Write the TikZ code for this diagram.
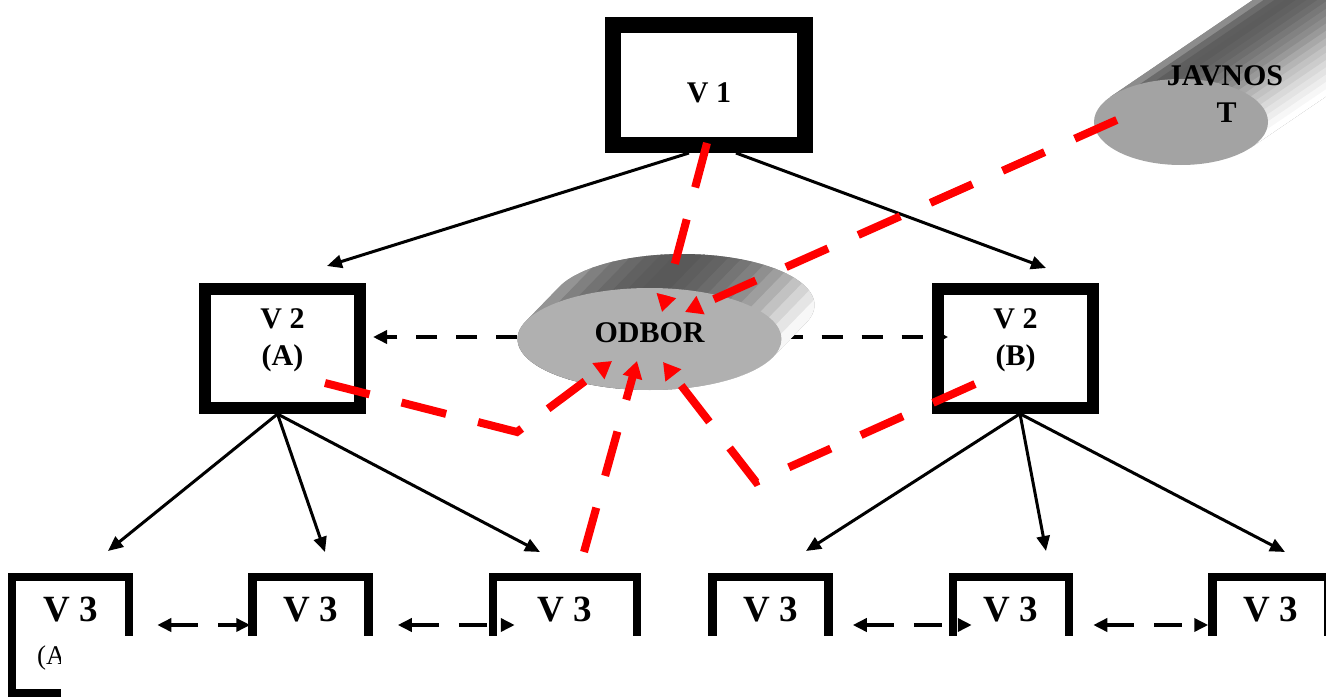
\documentclass[tikz,border=0pt]{standalone}
\usepackage{fontspec}
\setmainfont{Liberation Serif}
\usetikzlibrary{arrows.meta,shapes.geometric}
\pgfdeclarelayer{behind}
\pgfsetlayers{behind,main}
\definecolor{odborfront}{RGB}{176,176,176}
\definecolor{javfront}{RGB}{163,163,163}
\definecolor{linkred}{RGB}{255,0,0}
\begin{document}
\begin{tikzpicture}[x=1pt,y=-1pt,
  boxframe/.style={draw=black, inner sep=0pt},
  lbl/.style={font=\fontsize{30}{37}\selectfont\bfseries, inner sep=0pt, anchor=base},
  lblbig/.style={font=\fontsize{37}{44}\selectfont\bfseries, inner sep=0pt, anchor=base},
  treearrow/.style={line width=3pt, -{Triangle[length=15pt,width=13pt]}},
  peerarrow/.style={line width=3.5pt, dash pattern=on 21pt off 19pt, -{Triangle[length=14pt,width=13pt]}},
  peerboth/.style={line width=3.5pt, dash pattern=on 28pt off 20pt,
    {Triangle[length=14pt,width=13pt]}-{Triangle[length=14pt,width=13pt]}},
  redflow/.style={draw=linkred, line width=8pt, dash pattern=on 46pt off 33pt,
    -{Triangle[length=17pt,width=19pt]}},
]
\clip (0,0) rectangle (1326,699);
\useasboundingbox (0,0) rectangle (1326,699);

% ---- ODBOR: extruded disc, banded side surface
\begin{scope}
  \clip plot[domain=200.56:380.56, samples=60, variable=\t] ({682.5+132*cos(\t)},{305+51*sin(\t)})
     -- plot[domain=20.56:200.56, samples=60, variable=\t] ({649.5+132*cos(\t)},{339+51*sin(\t)}) -- cycle;
  \fill[white!58!black] (500,240) rectangle (830,400);
  \foreach \i/\g in {0/58,1/50,2/45,3/41,4/38,5/36,6/35,7/35,8/37,9/39,10/42,11/46,12/50,13/56,14/62,15/69,16/76,17/83,18/90,19/97}{
    \pgfmathsetmacro\sa{(-1+0.1*\i)*101}
    \pgfmathsetmacro\sb{(-0.89+0.1*\i)*101}
    \fill[white!\g!black]
      ({649.5+(\sa)*0.717-120*0.696},{339+(\sa)*0.696+120*0.717}) --
      ({649.5+(\sb)*0.717-120*0.696},{339+(\sb)*0.696+120*0.717}) --
      ({649.5+(\sb)*0.717+170*0.696},{339+(\sb)*0.696-170*0.717}) --
      ({649.5+(\sa)*0.717+170*0.696},{339+(\sa)*0.696-170*0.717}) -- cycle;
  }
\end{scope}
\node[ellipse, fill=odborfront, minimum width=264pt, minimum height=102pt, inner sep=0pt] (odbor) at (649.5,339) {};
\node[lbl] (odbort) at (649.5,342) {ODBOR};

% ---- JAVNOST: long cylinder running off the top right
\begin{scope}
  \clip (1110.6,96.7) -- (1358.6,-72) -- (1499.4,-21.4) -- (1251.4,147.3) -- cycle;
  \fill[white!55!black] (1080,-80) rectangle (1500,170);
  \foreach \i/\g in {0/55,1/42,2/37,3/36,4/38,5/40,6/43,7/47,8/51,9/55,10/60,11/66,12/71,13/76,14/80,15/85,16/89,17/93,18/97,19/100}{
    \pgfmathsetmacro\sa{(-1+0.1*\i)*60.5}
    \pgfmathsetmacro\sb{(-0.89+0.1*\i)*60.5}
    \fill[white!\g!black]
      ({1181+(\sa)*0.5623-100*0.8269},{122+(\sa)*0.8269+100*0.5623}) --
      ({1181+(\sb)*0.5623-100*0.8269},{122+(\sb)*0.8269+100*0.5623}) --
      ({1181+(\sb)*0.5623+420*0.8269},{122+(\sb)*0.8269-420*0.5623}) --
      ({1181+(\sa)*0.5623+420*0.8269},{122+(\sa)*0.8269-420*0.5623}) -- cycle;
  }
\end{scope}
\node[ellipse, fill=javfront, minimum width=174pt, minimum height=86pt, inner sep=0pt] (jav) at (1181,122) {};
\node[lbl] (javt1) at (1225,85) {JAVNOS};
\node[lbl] (javt2) at (1226.5,122) {T};

% ---- frames
\node[boxframe, line width=16pt, minimum width=192pt, minimum height=120pt] (v1) at (709,85) {};
\node[lbl] (v1t) at (709,102) {V 1};

\node[boxframe, line width=12pt, minimum width=155pt, minimum height=119pt] (v2a) at (282.5,348.5) {};
\node[lbl] (v2at) at (282.5,328) {V 2};
\node[lbl] (v2as) at (282.5,365) {(A)};

\node[boxframe, line width=11.5pt, minimum width=155pt, minimum height=119pt] (v2b) at (1015.5,348.5) {};
\node[lbl] (v2bt) at (1015.5,328) {V 2};
\node[lbl] (v2bs) at (1015.5,365) {(B)};

\node[boxframe, line width=8.5pt, minimum width=117pt, minimum height=116pt] (v3a) at (70.5,635) {};
\node[boxframe, line width=8.5pt, minimum width=116pt, minimum height=116pt] (v3b) at (310.5,635) {};
\node[boxframe, line width=8.5pt, minimum width=144pt, minimum height=116pt] (v3c) at (565,635) {};
\node[boxframe, line width=8.5pt, minimum width=116pt, minimum height=116pt] (v3d) at (770.5,635) {};
\node[boxframe, line width=8.5pt, minimum width=116pt, minimum height=116pt] (v3e) at (1011,635) {};
\node[boxframe, line width=8.5pt, minimum width=116pt, minimum height=116pt] (v3f) at (1270.5,635) {};
\node[lblbig] (v3at) at (70.5,621) {V 3};
\node[lblbig] (v3bt) at (310.5,621) {V 3};
\node[lblbig] (v3ct) at (565,621) {V 3};
\node[lblbig] (v3dt) at (770.5,621) {V 3};
\node[lblbig] (v3et) at (1011,621) {V 3};
\node[lblbig] (v3ft) at (1270.5,621) {V 3};
\node[font=\fontsize{27}{32}\selectfont, inner sep=0pt, anchor=base west] (v3as) at (37,664) {(A)};

% ---- arrow end points
\coordinate (a1) at (327,266);
\coordinate (a2) at (1046,268);
\coordinate (t1) at (108,551);
\coordinate (t2) at (325,552);
\coordinate (t3) at (540,552);
\coordinate (t4) at (806,551);
\coordinate (t5) at (1046,551);
\coordinate (t6) at (1285,552);
\coordinate (r1) at (662,312);
\coordinate (r2) at (685,312);
\coordinate (r3bend) at (517,432);
\coordinate (r3) at (612,361);
\coordinate (r4) at (637,361);
\coordinate (r5bend) at (756,482);
\coordinate (r5) at (663,362);

% ---- hierarchy arrows
\draw[treearrow] ([xshift=-20pt]v1.south) -- (a1);
\draw[treearrow] ([xshift=27pt]v1.south) -- (a2);
\draw[treearrow] ([xshift=-5pt]v2a.south) -- (t1);
\draw[treearrow] ([xshift=-5pt]v2a.south) -- (t2);
\draw[treearrow] ([xshift=-5pt]v2a.south) -- (t3);
\draw[treearrow] ([xshift=4.5pt]v2b.south) -- (t4);
\draw[treearrow] ([xshift=4.5pt]v2b.south) -- (t5);
\draw[treearrow] ([xshift=4.5pt]v2b.south) -- (t6);

% ---- dashed links from ODBOR (under the disc)
\begin{pgfonlayer}{behind}
  \draw[peerarrow] ([yshift=2pt]odbor.west) -- ([xshift=7pt,yshift=11.5pt]v2a.east);
  \draw[peerarrow] ([yshift=2pt]odbor.east) -- ([xshift=16pt,yshift=11.5pt]v2b.west);
\end{pgfonlayer}

% ---- dashed links between V3 frames
\draw[peerboth] ([xshift=24pt,yshift=10pt]v3a.east) -- ([xshift=2pt,yshift=10pt]v3b.west);
\draw[peerboth] ([xshift=25pt,yshift=10pt]v3b.east) -- ([xshift=26pt,yshift=10pt]v3c.west);
\draw[peerboth] ([xshift=20pt,yshift=10pt]v3d.east) -- ([xshift=23pt,yshift=10pt]v3e.west);
\draw[peerboth] ([xshift=20pt,yshift=10pt]v3e.east) -- ([xshift=0pt,yshift=10pt]v3f.west);

% ---- red flows into ODBOR
\draw[redflow] ([xshift=-2pt,yshift=10pt]v1.south) -- (r1);
\draw[redflow] ([xshift=23pt,yshift=2pt]jav.west) -- (r2);
\draw[redflow] ([xshift=-41pt,yshift=-34.5pt]v2a.east) -- (r3bend) -- (r3);
\draw[redflow] ([xshift=19pt,yshift=20.75pt]v3c.north) -- (r4);
\draw[redflow] ([xshift=42.75pt,yshift=-35.5pt]v2b.west) -- (r5bend) -- (r5);

% ---- lower edge of the sheet
\fill[white] (61,636) rectangle (1330,705);
\end{tikzpicture}
\end{document}
